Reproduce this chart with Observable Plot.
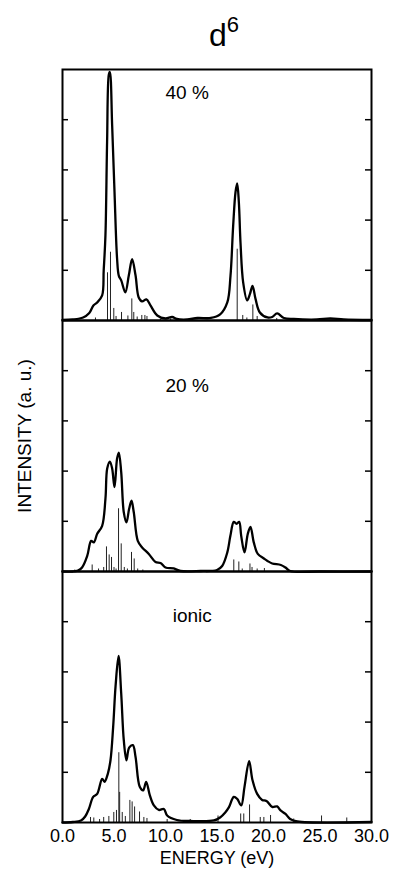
<!DOCTYPE html>
<html><head><meta charset="utf-8">
<script src="https://cdn.jsdelivr.net/npm/d3@7"></script>
<script src="https://cdn.jsdelivr.net/npm/@observablehq/plot@0.6"></script>
<style>
body{margin:0;background:#fff}
#c{position:relative;width:393px;height:876px}
</style>
</head><body><div id="c"></div>
<script>
// Panels
const panels = ["40 %", "20 %", "ionic"];
const xTicks = [0, 5, 10, 15, 20, 25, 30];
const yTicks = [1, 2, 3, 4];

// 40 % : broadened spectrum
const e40 = [0,1,2,2.6,3.0,3.37,3.85,4.0,4.17,4.33,4.5,4.6,4.82,5.05,5.3,5.47,5.7,6.1,6.44,6.76,7.09,7.4,7.73,8.15,8.54,9.2,10.0,10.65,11.1,12.1,13.1,14.4,15.3,16.0,16.31,16.57,16.8,16.96,17.12,17.28,17.54,17.93,18.2,18.45,18.74,19.16,19.9,20.36,20.84,21.5,22.45,24.7,26.0,27.3,30];
const i40 = [0.01,0.02,0.06,0.15,0.3,0.36,0.5,1.0,1.7,3.56,4.9,4.95,3.89,2.56,1.23,0.89,0.8,0.56,0.9,1.22,0.9,0.46,0.38,0.42,0.3,0.1,0.04,0.07,0.03,0.02,0.05,0.05,0.12,0.36,0.89,1.89,2.56,2.73,2.36,1.56,0.76,0.4,0.53,0.69,0.43,0.16,0.06,0.07,0.14,0.05,0.03,0.02,0.04,0.02,0.01];
// 40 % : line spectrum (sticks)
const s40e = [3.2,4.37,4.66,4.98,5.2,5.73,6.35,6.73,6.92,7.25,7.7,8.0,8.2,9.5,10.5,16.96,17.5,17.9,18.48,18.9,20.8,27.6];
const s40h = [0.05,0.95,1.36,0.24,0.08,0.16,0.09,0.43,0.16,0.07,0.1,0.1,0.08,0.03,0.03,1.42,0.1,0.05,0.31,0.08,0.04,0.02];

// 20 %
const e20 = [0,1,1.5,1.9,2.4,2.78,3.04,3.37,3.85,4.17,4.34,4.6,4.82,5.05,5.3,5.47,5.7,5.95,6.21,6.47,6.7,6.92,7.31,7.73,8.38,9.03,9.51,10.0,10.8,11.46,13.4,15.0,15.5,16.0,16.3,16.63,16.9,17.15,17.35,17.67,17.99,18.25,18.57,18.96,19.55,19.9,20.36,21.2,21.65,22.1,25,30];
const i20 = [0,0,0.02,0.08,0.31,0.61,0.58,0.75,0.91,1.45,2.05,2.19,2.05,1.68,2.25,2.37,1.98,1.18,0.98,1.25,1.41,1.18,0.61,0.48,0.35,0.19,0.17,0.08,0.06,0.01,0.01,0.03,0.11,0.38,0.71,0.99,0.95,0.99,0.71,0.38,0.75,0.89,0.58,0.35,0.26,0.21,0.16,0.13,0.08,0.01,0,0];
const s20e = [1.2,2.88,3.5,4.0,4.27,4.53,4.76,5.0,5.2,5.44,5.7,6.0,6.3,6.7,6.96,7.3,7.8,16.63,17.12,17.45,18.2,18.4,18.9,19.6];
const s20h = [0.03,0.13,0.05,0.08,0.49,0.33,0.28,0.08,0.05,1.25,0.55,0.08,0.05,0.38,0.25,0.05,0.03,0.23,0.19,0.05,0.15,0.08,0.05,0.06];

// ionic
const eIon = [0,1,1.8,2.2,2.56,2.98,3.37,3.85,4.08,4.4,4.66,4.92,5.15,5.44,5.7,5.95,6.21,6.47,6.83,7.09,7.5,7.83,8.12,8.48,8.87,9.35,9.84,10.16,11.1,12.4,14.7,15.3,15.8,16.15,16.63,16.96,17.35,17.67,18.12,18.45,18.9,19.38,19.8,20.36,20.84,21.17,21.65,22.1,22.8,30];
const iIon = [0,0.01,0.04,0.12,0.27,0.51,0.57,0.87,0.81,0.97,1.24,1.91,2.71,3.32,2.57,1.64,1.24,1.49,1.54,1.31,0.71,0.64,0.81,0.54,0.34,0.25,0.27,0.14,0.05,0.03,0.04,0.1,0.2,0.3,0.51,0.47,0.34,0.71,1.22,0.84,0.57,0.45,0.43,0.31,0.32,0.24,0.17,0.07,0.02,0.01];
const sIonE = [2.72,3.04,3.6,4.0,4.5,4.98,5.24,5.47,5.55,5.8,6.1,6.54,6.76,7.0,7.48,7.9,8.2,10.16,12.4,15.1,17.3,17.6,18.16,19.2,19.55,20.2,22.45,25.15,27.6];
const sIonH = [0.1,0.09,0.06,0.1,0.12,0.2,0.24,1.39,0.6,0.2,0.12,0.44,0.41,0.31,0.21,0.1,0.08,0.06,0.06,0.13,0.17,0.17,0.35,0.1,0.1,0.14,0.07,0.13,0.09];

// tables built from the arrays
const curves = [[e40,i40],[e20,i20],[eIon,iIon]];
const stickSets = [[s40e,s40h],[s20e,s20h],[sIonE,sIonH]];
const curveRows = panels.flatMap((p,k) => curves[k][0].map((e,j) => ({panel:p, e, i: curves[k][1][j]})));
const stickRows = panels.flatMap((p,k) => stickSets[k][0].map((e,j) => ({panel:p, e, h: stickSets[k][1][j]})));

const labelPos = {"40 %": [12.1, 4.54], "20 %": [12.1, 3.7], "ionic": [12.6, 4.12]};
const plotW = 393 - 62 - 22;

const chart = Plot.plot({
  width: 393, height: 876,
  marginTop: 69, marginBottom: 54, marginLeft: 62, marginRight: 22,
  style: {fontFamily: "'Liberation Sans', Arial, Helvetica, sans-serif", fontSize: "18px", color: "#000", background: "#fff"},
  x: {domain: [0, 30], ticks: xTicks, tickFormat: d => d.toFixed(1), tickSize: 0, tickPadding: 7, label: null},
  y: {domain: [0, 5], axis: null},
  fy: {domain: panels, padding: 0, axis: null},
  marks: [
    Plot.ruleX(stickRows, {x: "e", y1: 0, y2: "h", fy: "panel", stroke: "#222", strokeWidth: 1}),
    Plot.line(curveRows, {x: "e", y: "i", fy: "panel", curve: "catmull-rom", stroke: "#000", strokeWidth: 2.3}),
    Plot.ruleY(yTicks, {y: d => d, insetRight: plotW - 6, stroke: "#000", strokeWidth: 1.5}),
    Plot.ruleY(yTicks, {y: d => d, insetLeft: plotW - 6, stroke: "#000", strokeWidth: 1.5}),
    Plot.frame({stroke: "#000", strokeWidth: 2}),
    Plot.text(panels, {fy: d => d, x: d => labelPos[d][0], y: d => labelPos[d][1], text: d => d, fontSize: 19, fill: "#000"})
  ]
});

const svg = d3.select(chart);
const t = svg.append("text").attr("x", 224).attr("y", 46).attr("text-anchor", "middle").attr("font-size", 32).attr("fill", "#000");
t.append("tspan").text("d");
t.append("tspan").attr("dy", -14).attr("font-size", 22).text("6");
svg.append("text").attr("transform", "translate(26,436) rotate(-90)").attr("text-anchor", "middle")
  .attr("dominant-baseline", "middle").attr("font-size", 19).attr("fill", "#000").text("INTENSITY (a. u.)");
svg.append("text").attr("x", 217).attr("y", 864).attr("text-anchor", "middle")
  .attr("font-size", 18).attr("fill", "#000").text("ENERGY (eV)");

document.getElementById("c").appendChild(chart);
</script>
</body></html>
